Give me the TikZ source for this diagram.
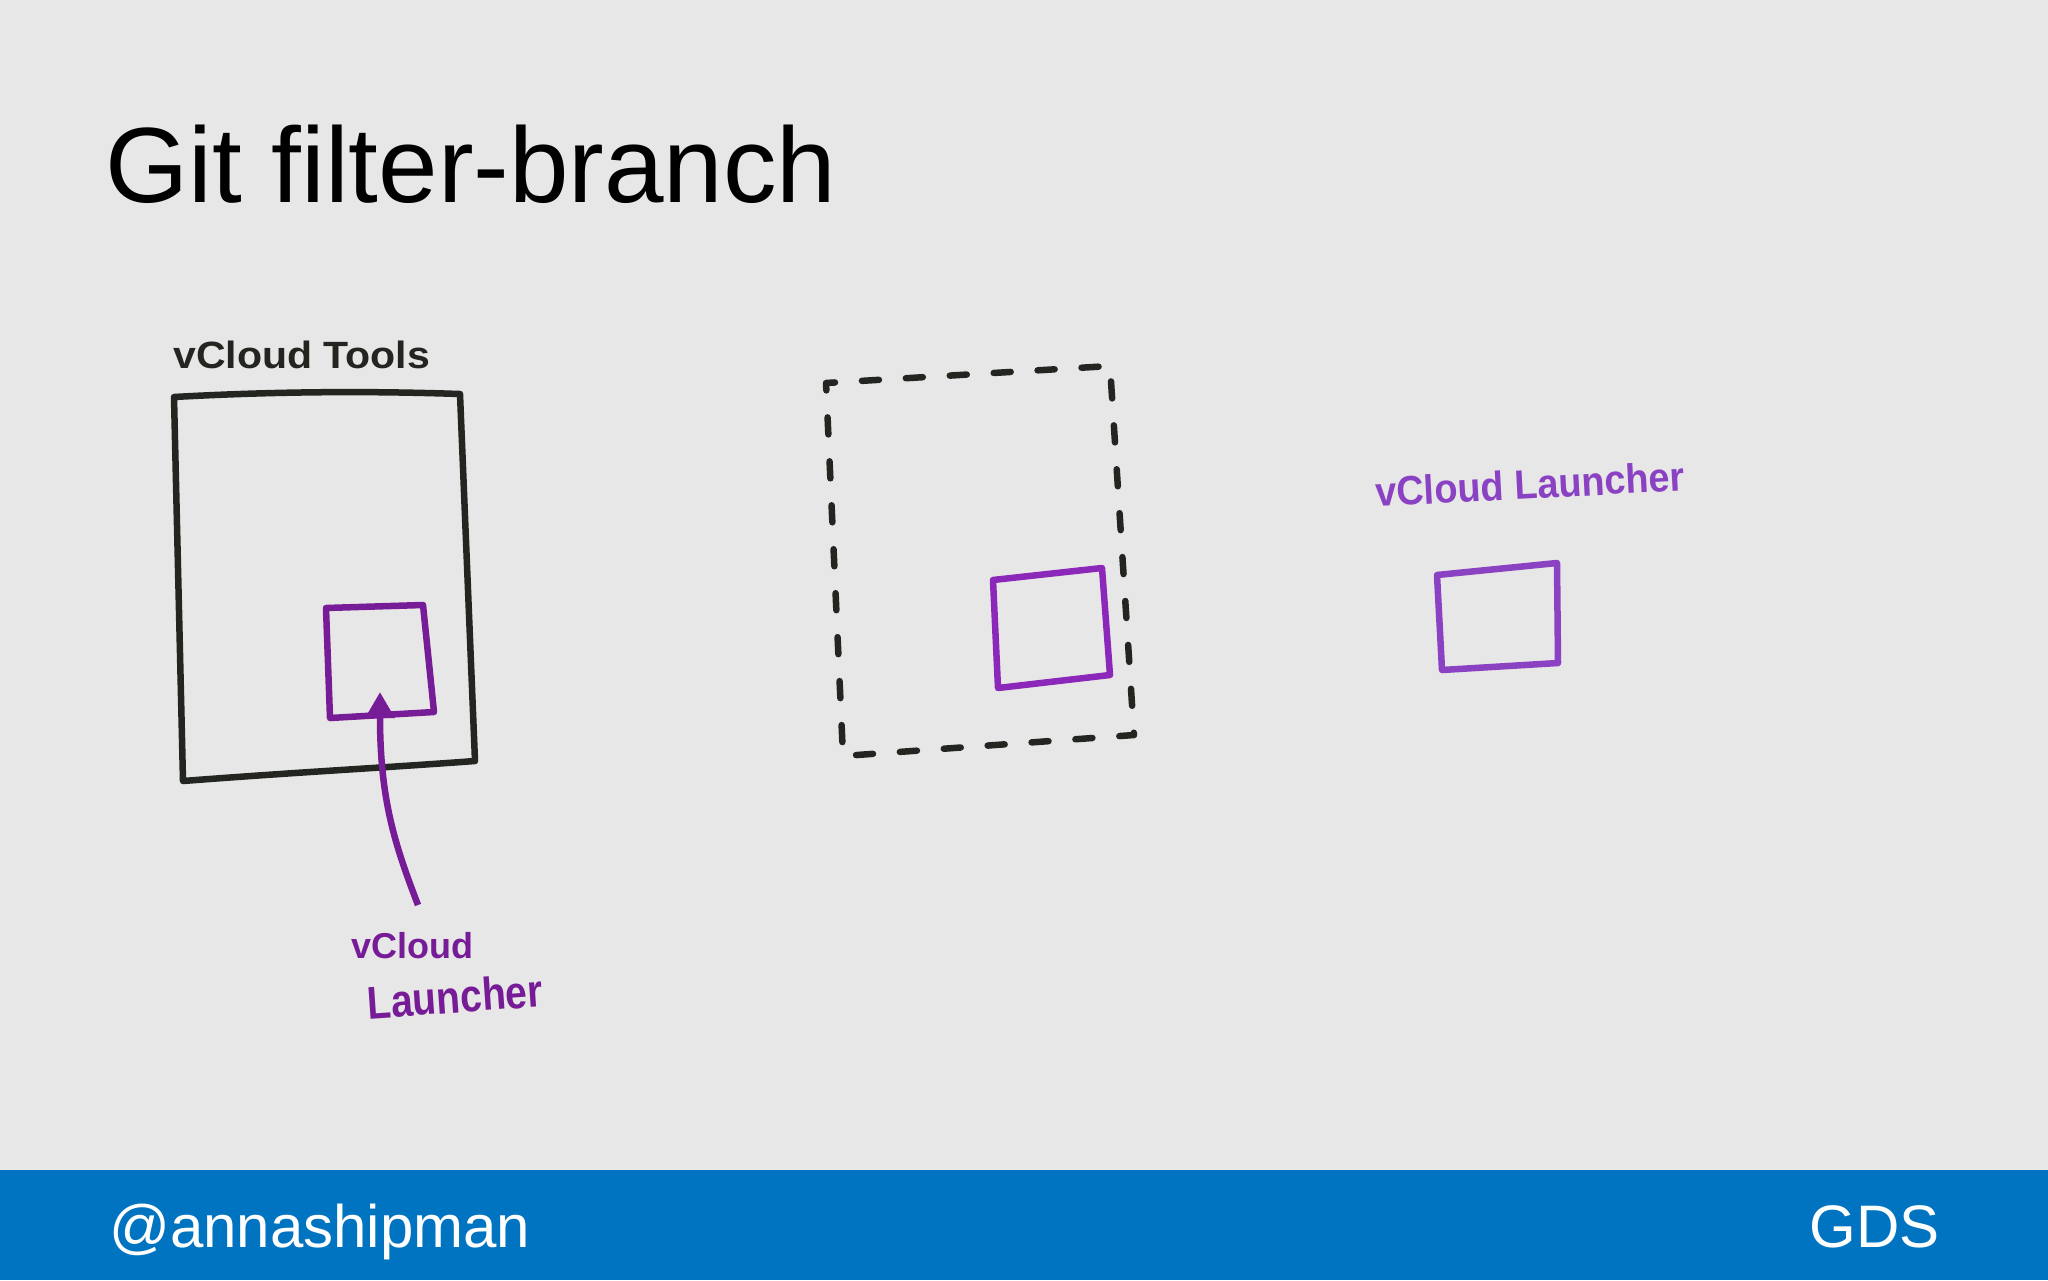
\documentclass[tikz,border=0pt]{standalone}
\usepackage{fontspec}
\setmainfont{Liberation Sans}
\usetikzlibrary{arrows.meta}
\definecolor{bg}{RGB}{232,231,232}
\definecolor{gdsblue}{RGB}{0,116,193}
\definecolor{marker}{RGB}{35,38,32}
\definecolor{purpA}{RGB}{118,28,150}
\definecolor{purpB}{RGB}{140,40,185}
\definecolor{purpC}{RGB}{138,66,195}
\begin{document}
\begin{tikzpicture}[x=1pt,y=-1pt,
  mkline/.style={line width=6.5pt,line join=round,line cap=round},
  blackbox/.style={mkline,draw=marker},
  dashbox/.style={mkline,draw=marker,dash pattern=on 17pt off 27pt,dash phase=8pt},
  purplebox/.style={mkline,draw=#1},
  handtext/.style={inner sep=0pt,anchor=base west,font=\fontsize{#1}{#1}\selectfont\bfseries},
  slidetext/.style={inner sep=0pt,font=\fontsize{#1}{#1}\selectfont}
]
\useasboundingbox (0,0) rectangle (2048,1280);
\fill[bg] (0,0) rectangle (2048,1280);
\fill[gdsblue] (0,1170) rectangle (2048,1280);

% title and footer
\node[slidetext=107,anchor=base west] (title) at (105,202) {Git filter-branch};
\node[slidetext=60,anchor=base west,text=white] (handle) at (109,1247) {@annashipman};
\node[slidetext=60,anchor=base east,text=white] (gds) at (1940,1247) {GDS};

% left: vCloud Tools
\node[handtext=38,text=marker] (toolslbl) at (173,368) {\scalebox{1.08}[1]{vCloud Tools}};
\draw[blackbox] (174,397) .. controls (300,390) and (400,392) .. (460,394)
  -- (475,761) .. controls (380,768) and (300,772) .. (183,781) -- cycle;
\coordinate (ilTL) at (326,608);
\coordinate (ilTR) at (423,605);
\coordinate (ilBR) at (434,712);
\coordinate (ilBL) at (330,718);
\draw[purplebox=purpA] (ilTL) -- (ilTR) -- (ilBR) -- (ilBL) -- cycle;
\node[handtext=36,text=purpA] (lblA1) at (351,958) {vCloud};
\node[handtext=46,text=purpA,rotate=4] (lblA2) at (368,1019) {\scalebox{0.85}[1]{Launcher}};
\coordinate (arrowtail) at (418,905);
\coordinate (arrowtip) at (380,692);
\draw[mkline,draw=purpA,line cap=butt,-{Triangle[length=26pt,width=28pt]}]
  (arrowtail) .. controls (395,845) and (380,800) .. (arrowtip);

% middle: dashed box
\draw[dashbox] (826,383) -- (1110,366) -- (1134,735) -- (843,756) -- cycle;
\draw[purplebox=purpB] (993,580) -- (1102,568) -- (1110,675) -- (998,688) -- cycle;

% right: vCloud Launcher
\node[handtext=41,text=purpC,rotate=3] (lblC) at (1376,507) {\scalebox{0.925}[1]{vCloud Launcher}};
\draw[purplebox=purpC] (1437,575) -- (1557,563) -- (1558,663) -- (1442,670) -- cycle;
\end{tikzpicture}
\end{document}
